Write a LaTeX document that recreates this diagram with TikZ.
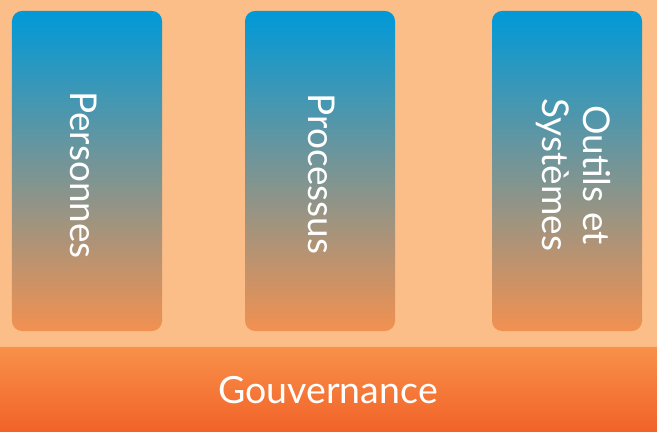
\documentclass[tikz,border=0pt]{standalone}
\usepackage{fontspec}
\setmainfont{Lato}
\definecolor{fond}{HTML}{FBBE89}
\definecolor{bleu}{HTML}{0099D8}
\definecolor{gris}{HTML}{9C978F}
\definecolor{orclair}{HTML}{F29151}
\definecolor{orhaut}{HTML}{F8914A}
\definecolor{orbas}{HTML}{F15A22}
\tikzset{
  pilier/.style={rectangle, rounded corners=0.3cm, inner sep=0pt,
    minimum width=4.5cm, minimum height=9.6cm,
    top color=bleu, middle color=gris, bottom color=orclair},
  etiquette/.style={rotate=-90, text=white, align=center,
    font=\fontsize{31.5}{35}\selectfont},
  socle/.style={rectangle, rounded corners=0.3cm, inner sep=0pt,
    minimum width=20.4cm, minimum height=3cm,
    top color=orhaut, bottom color=orbas}
}
\begin{document}
\begin{tikzpicture}[x=0.03cm,y=0.03cm]
	\clip (0,0) rectangle (657,432);
	\fill[fond] (0,0) rectangle (657,432);
	\node[pilier] (pers) at (87,261) {};
	\node[pilier] (proc) at (320,261) {};
	\node[pilier] (outil) at (567,261) {};
	\node[etiquette] at (84,257) {Personnes};
	\node[etiquette] at (322,258) {Processus};
	\node[etiquette] at (573,257) {Outils et\\Systèmes};
	\node[socle] (gouv) at (328,35) {};
	\node[text=white, font=\fontsize{32}{36}\selectfont] at (328,42) {Gouvernance};
\end{tikzpicture}
\end{document}
